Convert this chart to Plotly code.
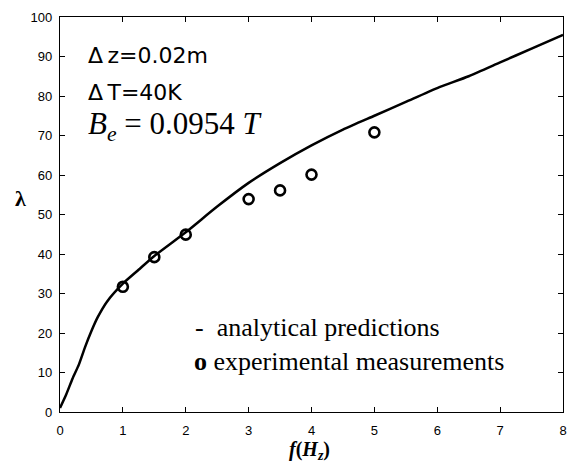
import plotly.graph_objects as go

# analytical prediction curve
curve_f = [0, 0.1, 0.2, 0.3, 0.4, 0.5, 0.6, 0.75, 1.0, 1.25, 1.5, 2.0, 2.5, 3.0, 3.5, 4.0, 4.5, 5.0, 5.5, 6.0, 6.5, 7.0, 7.5, 8.0]
curve_lambda = [1, 4.5, 8.5, 12, 16.5, 20.5, 24, 28, 32.5, 36, 39.5, 45.5, 52, 58, 63, 67.5, 71.5, 75, 78.5, 82, 85, 88.5, 92, 95.5]

# experimental measurements
exp_f = [1.0, 1.5, 2.0, 3.0, 3.5, 4.0, 5.0]
exp_lambda = [31.7, 39.2, 44.9, 53.9, 56.1, 60.1, 70.8]

x_ticks = [0, 1, 2, 3, 4, 5, 6, 7, 8]
y_ticks = [0, 10, 20, 30, 40, 50, 60, 70, 80, 90, 100]

fig = go.Figure()
fig.add_trace(go.Scatter(x=curve_f, y=curve_lambda, mode="lines",
                         line=dict(color="black", width=2.5, shape="spline", smoothing=0.6),
                         showlegend=False))
fig.add_trace(go.Scatter(x=exp_f, y=exp_lambda, mode="markers",
                         marker=dict(symbol="circle-open", size=10, color="black",
                                     line=dict(width=2.6, color="black")),
                         showlegend=False))

axis_common = dict(showline=True, linecolor="black", linewidth=1.2, mirror="ticks",
                   ticks="inside", ticklen=5, tickwidth=1, tickcolor="black", showgrid=False, zeroline=False,
                   tickfont=dict(family="Arial, Liberation Sans", size=13, color="black"))

fig.update_xaxes(range=[0, 8], tickvals=x_ticks, ticktext=[str(v) for v in x_ticks],
                 ticklabelstandoff=6, **axis_common)
fig.update_yaxes(range=[0, 100], tickvals=y_ticks, ticktext=[str(v) for v in y_ticks],
                 ticklabelstandoff=4, **axis_common)

fig.add_annotation(x=0.497, xref="paper", y=-0.097, yref="paper", yanchor="middle", showarrow=False,
                   text="<b><i>f</i>(<i>H<sub>z</sub></i>)</b>",
                   font=dict(family="Times New Roman, Liberation Serif", size=20, color="black"))
fig.add_annotation(x=-0.079, xref="paper", y=0.54, yref="paper", xanchor="center", yanchor="middle",
                   showarrow=False, text="<b>λ</b>",
                   font=dict(family="Times New Roman, Liberation Serif", size=22, color="black"))

fig.add_annotation(x=0.052, xref="paper", y=0.903, yref="paper", xanchor="left", yanchor="middle",
                   showarrow=False, text="Δ\u2009z=0.02m",
                   font=dict(family="DejaVu Sans", size=22, color="black"))
fig.add_annotation(x=0.052, xref="paper", y=0.81, yref="paper", xanchor="left", yanchor="middle",
                   showarrow=False, text="Δ\u2009T=40K",
                   font=dict(family="DejaVu Sans", size=22, color="black"))
fig.add_annotation(x=0.052, xref="paper", y=0.724, yref="paper", xanchor="left", yanchor="middle",
                   showarrow=False, text="<i>B<sub>e</sub></i> = 0.0954 <i>T</i>",
                   font=dict(family="Times New Roman, Liberation Serif", size=31, color="black"))

fig.add_annotation(x=0.265, xref="paper", y=0.215, yref="paper", xanchor="left", yanchor="middle",
                   showarrow=False, text="-  analytical predictions",
                   font=dict(family="Times New Roman, Liberation Serif", size=26, color="black"))
fig.add_annotation(x=0.262, xref="paper", y=0.128, yref="paper", xanchor="left", yanchor="middle",
                   showarrow=False, text="<b>o</b> experimental measurements",
                   font=dict(family="Times New Roman, Liberation Serif", size=26, color="black"))

fig.update_layout(width=577, height=470, margin=dict(l=60, r=10, t=12, b=58),
                  plot_bgcolor="white", paper_bgcolor="white")

fig.write_html("out.html", config={"displayModeBar": False},
               post_script="document.body.style.margin='0';document.body.style.overflow='hidden';")
